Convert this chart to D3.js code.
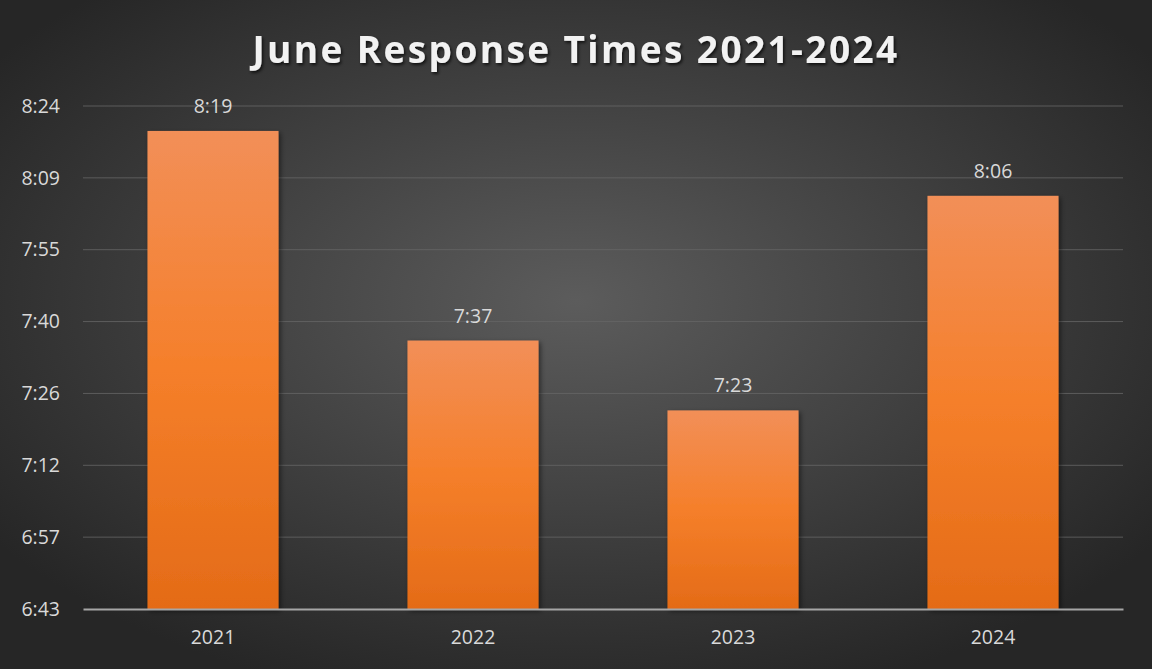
<!DOCTYPE html>
<html>
<head>
<meta charset="utf-8">
<script src="https://cdn.jsdelivr.net/npm/d3@7"></script>
<style>
  body { margin: 0; background: #262626; }
  svg { display: block; }
</style>
</head>
<body>
<div id="chart"></div>
<script>
// data (seconds)
const years = ['2021', '2022', '2023', '2024'];
const responseSecs = [499, 457, 443, 486];
const valueLabels = ['8:19', '7:37', '7:23', '8:06'];
// Excel ticks: 0.0047 day + k * 0.000166 day, shown as m:ss (truncated)
const tickSecs = [403.2, 417.6, 432, 446.4, 460.8, 475.2, 489.6, 504];
const tickLabels = ['6:43', '6:57', '7:12', '7:26', '7:40', '7:55', '8:09', '8:24'];

const width = 1152, height = 669;
const margin = {top: 106, right: 29, bottom: 59, left: 83};

const svg = d3.select('#chart').append('svg')
  .attr('width', width)
  .attr('height', height);

const defs = svg.append('defs');
const bg = defs.append('radialGradient').attr('id', 'bg')
  .attr('cx', '50%').attr('cy', '45%').attr('r', '62%');
bg.append('stop').attr('offset', '0%').attr('stop-color', '#5c5c5c');
bg.append('stop').attr('offset', '100%').attr('stop-color', '#262626');

const barGrad = defs.append('linearGradient').attr('id', 'barGrad')
  .attr('x1', 0).attr('y1', 0).attr('x2', 0).attr('y2', 1);
barGrad.append('stop').attr('offset', '0%').attr('stop-color', '#f28f58');
barGrad.append('stop').attr('offset', '50%').attr('stop-color', '#f57f2a');
barGrad.append('stop').attr('offset', '100%').attr('stop-color', '#e46b17');

const shadow = defs.append('filter').attr('id', 'shadow')
  .attr('x', '-20%').attr('y', '-20%').attr('width', '140%').attr('height', '140%');
shadow.append('feDropShadow').attr('dx', 2).attr('dy', 2).attr('stdDeviation', 2.5)
  .attr('flood-color', '#000').attr('flood-opacity', 0.5);

const titleShadow = defs.append('filter').attr('id', 'tshadow');
titleShadow.append('feDropShadow').attr('dx', 1.5).attr('dy', 2).attr('stdDeviation', 1.5)
  .attr('flood-color', '#000').attr('flood-opacity', 0.7);

svg.append('rect').attr('width', width).attr('height', height).attr('fill', 'url(#bg)');

const x = d3.scaleBand().domain(years)
  .range([margin.left, width - margin.right]).paddingInner(0.496).paddingOuter(0.248);
const y = d3.scaleLinear().domain([403.2, 504])
  .range([height - margin.bottom - 1, margin.top]);

// gridlines
svg.append('g')
  .selectAll('line').data(tickSecs.slice(1)).join('line')
  .attr('x1', margin.left).attr('x2', width - margin.right)
  .attr('y1', d => y(d)).attr('y2', d => y(d))
  .attr('stroke', '#666').attr('stroke-opacity', 0.8).attr('stroke-width', 1);

// y axis labels
const yAxis = d3.axisLeft(y).tickValues(tickSecs)
  .tickFormat((d, i) => tickLabels[i]).tickSize(0).tickPadding(23);
svg.append('g').attr('transform', `translate(${margin.left},0)`).call(yAxis)
  .call(g => g.select('.domain').remove())
  .selectAll('text')
  .attr('fill', '#d9d9d9').style('font-family', 'Open Sans, sans-serif').style('font-size', '19.5px');

// bars
svg.append('g').selectAll('rect').data(responseSecs).join('rect')
  .attr('x', (d, i) => x(years[i]))
  .attr('y', d => y(d))
  .attr('width', x.bandwidth())
  .attr('height', d => y(403.2) - y(d))
  .attr('fill', 'url(#barGrad)')
  .attr('filter', 'url(#shadow)');

// value labels
svg.append('g').selectAll('text').data(responseSecs).join('text')
  .attr('x', (d, i) => x(years[i]) + x.bandwidth() / 2)
  .attr('y', d => y(d) - 18)
  .attr('text-anchor', 'middle')
  .attr('fill', '#d9d9d9')
  .style('font-family', 'Open Sans, sans-serif').style('font-size', '19.5px')
  .text((d, i) => valueLabels[i]);

// x axis
const xAxis = d3.axisBottom(x).tickSize(0).tickPadding(21);
svg.append('g').attr('transform', `translate(0,${y(403.2)})`).call(xAxis)
  .call(g => g.select('.domain').attr('stroke', '#a6a6a6').attr('stroke-width', 2))
  .selectAll('text')
  .attr('fill', '#d9d9d9').style('font-family', 'Open Sans, sans-serif').style('font-size', '19.5px');

// title
svg.append('text')
  .attr('x', width / 2)
  .attr('y', 63)
  .attr('text-anchor', 'middle')
  .attr('fill', '#f2f2f2')
  .attr('filter', 'url(#tshadow)')
  .style('font-family', 'Open Sans, sans-serif')
  .style('font-weight', 700)
  .style('font-size', '37px')
  .style('letter-spacing', '2.4px')
  .text('June Response Times 2021-2024');
</script>
</body>
</html>
